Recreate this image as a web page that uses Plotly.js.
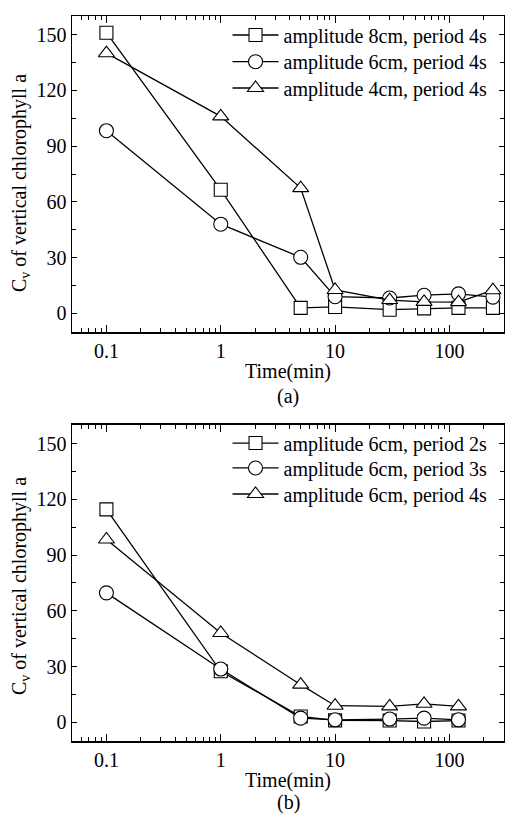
<!DOCTYPE html>
<html><head><meta charset="utf-8">
<script src="https://cdn.plot.ly/plotly-3.0.1.min.js"></script>
<style>html,body{margin:0;padding:0;background:#fff}#chart{width:505px;height:814px}</style>
</head><body><div id="chart"></div>
<script>
// Panel (a): period 4s, different amplitudes
const timeA = [0.1, 1, 5, 10, 30, 60, 120, 240];
const amp8 = [151, 66.5, 3, 3.5, 2, 2.7, 3, 3];
const amp6 = [98.3, 48, 30.2, 9, 8.3, 9.8, 10.5, 8.8];
const amp4 = [140, 106, 67.4, 12.6, 7.2, 6.2, 6.1, 12.5];
const namesA = ["amplitude 8cm, period 4s", "amplitude 6cm, period 4s", "amplitude 4cm, period 4s"];
// Panel (b): amplitude 6cm, different periods
const timeB = [0.1, 1, 5, 10, 30, 60, 120];
const per2 = [114.6, 27.5, 3.2, 1.1, 1, 0.5, 1];
const per3 = [69.7, 28.7, 2.3, 1.4, 1.8, 2.3, 1.4];
const per4 = [98.4, 48.1, 20.3, 9, 8.6, 10, 8.6];
const namesB = ["amplitude 6cm, period 2s", "amplitude 6cm, period 3s", "amplitude 6cm, period 4s"];
const yTicks = [0, 30, 60, 90, 120, 150];
const xTickVals = [0.1, 1, 10, 100];
const xTickText = ["0.1", "1", "10", "100"];

const FONT = "Liberation Serif";
const symbols = ["square", "circle", "triangle-up"];
const msize = [13, 14, 14];

function mk(x, y, name, i, xa, ya, leg) {
  return {
    x: x, y: y, name: name, xaxis: xa, yaxis: ya, legend: leg,
    type: "scatter", mode: "lines+markers",
    line: {color: "#000", width: 1.3},
    marker: {symbol: symbols[i], size: msize[i], color: "#fff", line: {color: "#000", width: 1.1}}
  };
}
const data = [
  mk(timeA, amp8, namesA[0], 0, "x", "y", "legend"),
  mk(timeA, amp6, namesA[1], 1, "x", "y", "legend2"),
  mk(timeA, amp4, namesA[2], 2, "x", "y", "legend3"),
  mk(timeB, per2, namesB[0], 0, "x2", "y2", "legend4"),
  mk(timeB, per3, namesB[1], 1, "x2", "y2", "legend5"),
  mk(timeB, per4, namesB[2], 2, "x2", "y2", "legend6")
];

function xax(anchor) {
  return {
    type: "log", range: [Math.log10(0.05), Math.log10(300)], anchor: anchor,
    tickvals: xTickVals, ticktext: xTickText,
    ticks: "inside", ticklen: 7, tickwidth: 1, tickcolor: "#000",
    minor: {ticks: "inside", ticklen: 4, tickwidth: 1, tickcolor: "#000", dtick: "D1"},
    showline: true, linecolor: "#000", linewidth: 1.5, mirror: "ticks",
    showgrid: false, zeroline: false,
    tickfont: {family: FONT, size: 20, color: "#000"}
  };
}
function yax(anchor, domain) {
  return {
    range: [-10, 160], domain: domain, anchor: anchor,
    tickvals: yTicks, ticks: "inside", ticklen: 5, tickwidth: 1, tickcolor: "#000",
    minor: {ticks: "inside", ticklen: 4, tickwidth: 1, tickcolor: "#000", dtick: 15},
    showline: true, linecolor: "#000", linewidth: 1.5, mirror: "ticks",
    showgrid: false, zeroline: false,
    tickfont: {family: FONT, size: 20, color: "#000"}
  };
}
function leg(y) {
  return {x: 0.36, xanchor: "left", y: y, yanchor: "middle", bgcolor: "rgba(0,0,0,0)",
    borderwidth: 0, itemwidth: 46, tracegroupgap: 0,
    font: {family: FONT, size: 20, color: "#000"}};
}
const textAnn = (t, x, y, ang) => ({text: t, xref: "paper", yref: "paper", x: x, y: y,
  showarrow: false, textangle: ang || 0, font: {family: FONT, size: 20, color: "#000"},
  xanchor: "center", yanchor: "middle"});

const layout = {
  width: 505, height: 814,
  margin: {l: 72, r: 1, t: 16, b: 73},
  paper_bgcolor: "#fff", plot_bgcolor: "#fff",
  showlegend: true,
  xaxis: xax("y"), yaxis: yax("x", [0.5641, 1]),
  xaxis2: xax("y2"), yaxis2: yax("x2", [0, 0.4359]),
  legend: leg(0.9738), legend2: leg(0.9370), legend3: leg(0.9007),
  legend4: leg(0.4110), legend5: leg(0.3766), legend6: leg(0.3407),
  annotations: [
    textAnn("Time(min)", 0.5, 0.509, 0),
    textAnn("(a)", 0.5, 0.4745, 0),
    textAnn("Time(min)", 0.5, -0.0538, 0),
    textAnn("(b)", 0.5, -0.0855, 0),
    textAnn("C<sub>v</sub> of vertical chlorophyll a", -0.118, 0.7697, -90),
    textAnn("C<sub>v</sub> of vertical chlorophyll a", -0.118, 0.2138, -90)
  ]
};
Plotly.newPlot("chart", data, layout, {displayModeBar: false, staticPlot: true});
</script></body></html>
